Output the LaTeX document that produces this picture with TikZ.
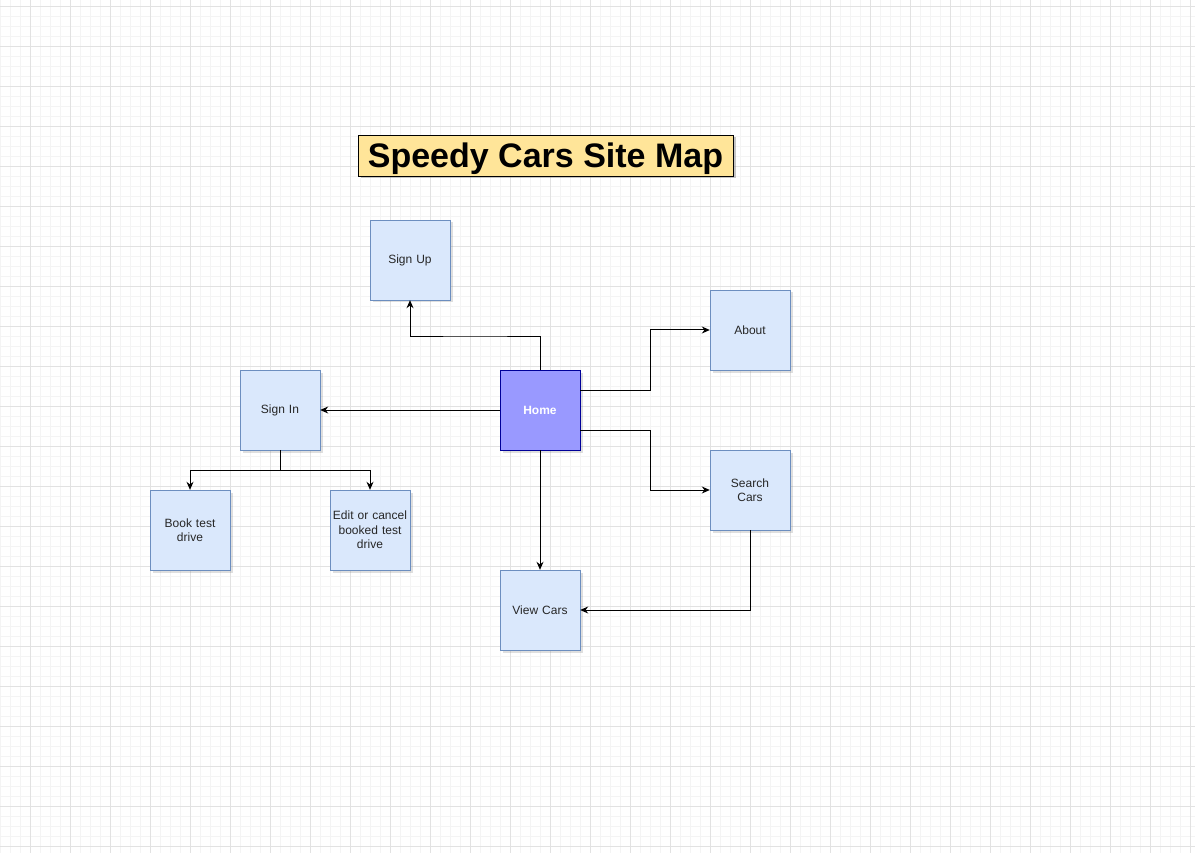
\documentclass[tikz,border=0pt]{standalone}
\usepackage{fontspec}
\setmainfont{Liberation Sans}
\usetikzlibrary{shadows,arrows.meta}
\definecolor{boxfill}{HTML}{DAE8FC}
\definecolor{boxline}{HTML}{6C8EBF}
\definecolor{homefill}{HTML}{9999FF}
\definecolor{homeline}{HTML}{000099}
\definecolor{titlefill}{HTML}{FFE599}
\definecolor{gridminor}{HTML}{F4F4F4}
\definecolor{gridmajor}{HTML}{E2E2E2}
\begin{document}
\begin{tikzpicture}[x=1pt,y=-1pt,
  page/.style={draw=boxline,fill=boxfill,minimum width=80pt,minimum height=80pt,
    inner sep=2pt,text width=76pt,align=center,font=\fontsize{12}{14.5}\selectfont,
    text=black!85,drop shadow={opacity=0.25,shadow xshift=2.5pt,shadow yshift=-2.5pt}},
  homepage/.style={page,draw=homeline,fill=homefill,text=white,font=\fontsize{12}{14.5}\selectfont\bfseries},
  titlebox/.style={draw=black,fill=titlefill,minimum width=375pt,minimum height=41pt,
    font=\fontsize{34}{38}\selectfont\bfseries,inner sep=0pt,text height=25pt,text depth=1pt,
    drop shadow={opacity=0.45,shadow xshift=2.5pt,shadow yshift=-2.5pt}},
  link/.style={draw=black,line width=1pt,-{Stealth[length=8pt,width=7pt]}}]
\useasboundingbox (0,0) rectangle (1195,853);
\fill[white] (0,0) rectangle (1195,853);
% grid
\foreach \x in {0,10,...,1190} \draw[gridminor,line width=0.6pt] (\x,0) -- (\x,853);
\foreach \y in {6,16,...,850} \draw[gridminor,line width=0.6pt] (0,\y) -- (1195,\y);
\foreach \x in {30,70,...,1190} \draw[gridmajor,line width=0.8pt] (\x,0) -- (\x,853);
\foreach \y in {6,46,...,850} \draw[gridmajor,line width=0.8pt] (0,\y) -- (1195,\y);
% title
\node[titlebox] (title) at (545.5,155.5) {Speedy Cars Site Map};
% nodes
\node[page] (signup) at (410,260) {Sign Up};
\node[page] (about) at (750,330) {About};
\node[homepage] (home) at (540,410) {Home};
\node[page] (signin) at (280,410) {Sign In};
\node[page] (search) at (750,490) {Search\\Cars};
\node[page] (book) at (190,530) {Book test\\drive};
\node[page] (edit) at (370,530) {Edit or cancel\\booked test\\drive};
\node[page] (view) at (540,610) {View Cars};
\coordinate (homeup) at (580,390);
\coordinate (homedown) at (580,430);
% connectors
\draw[link] (home.north) |- (475,336) -| (signup.south);
\draw[link] (homeup) -- (650,390) |- (about.west);
\draw[link] (homedown) -- (650,430) |- (search.west);
\draw[link] (home.west) -- (signin.east);
\draw[link] (home.south) -- (view.north);
\draw[link] (search.south) |- (view.east);
\draw[link] (signin.south) -- (280,470) -| (book.north);
\draw[link] (signin.south) -- (280,470) -| (edit.north);
\end{tikzpicture}
\end{document}
